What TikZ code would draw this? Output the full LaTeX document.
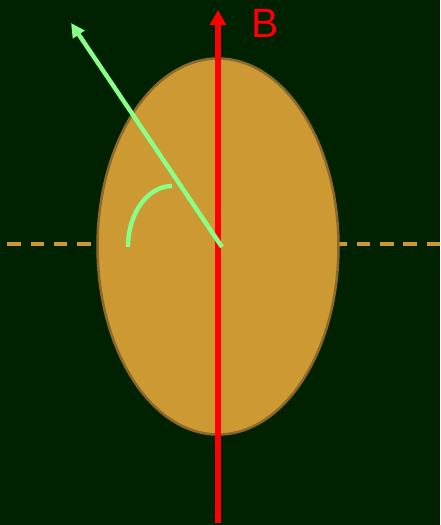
\documentclass[tikz,border=0pt]{standalone}
\usepackage{fontspec}
\setmainfont{Liberation Sans}
\usetikzlibrary{arrows.meta}
\definecolor{bgc}{RGB}{0,34,0}
\definecolor{ellfill}{RGB}{204,153,51}
\definecolor{ellline}{RGB}{140,105,40}
\definecolor{lgreen}{RGB}{136,255,136}
\definecolor{bred}{RGB}{255,0,0}
\tikzset{
  dashline/.style={ellfill, line width=3.3pt, dash pattern=on 13.4pt off 9.9pt},
  body/.style={fill=ellfill, draw=ellline, line width=2.5pt},
  fieldarrow/.style={bred, line width=5.3pt, -{Triangle[length=15pt,width=15.5pt]}},
  momarrow/.style={lgreen, line width=4.4pt, -{Triangle[length=14pt,width=13.5pt]}},
  anglearc/.style={lgreen, line width=4.4pt},
}
\begin{document}
\begin{tikzpicture}[x=1pt,y=-1pt]
\useasboundingbox[fill=bgc] (0,0) rectangle (440,525);
\coordinate (dl) at (7.3,244);
\coordinate (dr) at (440,244);
\coordinate (c) at (218,246.5);
\coordinate (rb) at (218,523);
\coordinate (rt) at (218,10);
\coordinate (gs) at (222,247);
\coordinate (gt) at (71,23);
\draw[dashline] (dl) -- (dr);
\draw[body] (c) ellipse [x radius=120.5, y radius=188];
\draw[fieldarrow] (rb) -- (rt);
\draw[momarrow] (gs) -- (gt);
\draw[anglearc] (128,247) arc[start angle=180, end angle=270, x radius=44, y radius=61];
\node[text=bred, font=\fontsize{41}{41}\selectfont, inner sep=0pt] (B) at (265,23) {B};
\end{tikzpicture}
\end{document}
